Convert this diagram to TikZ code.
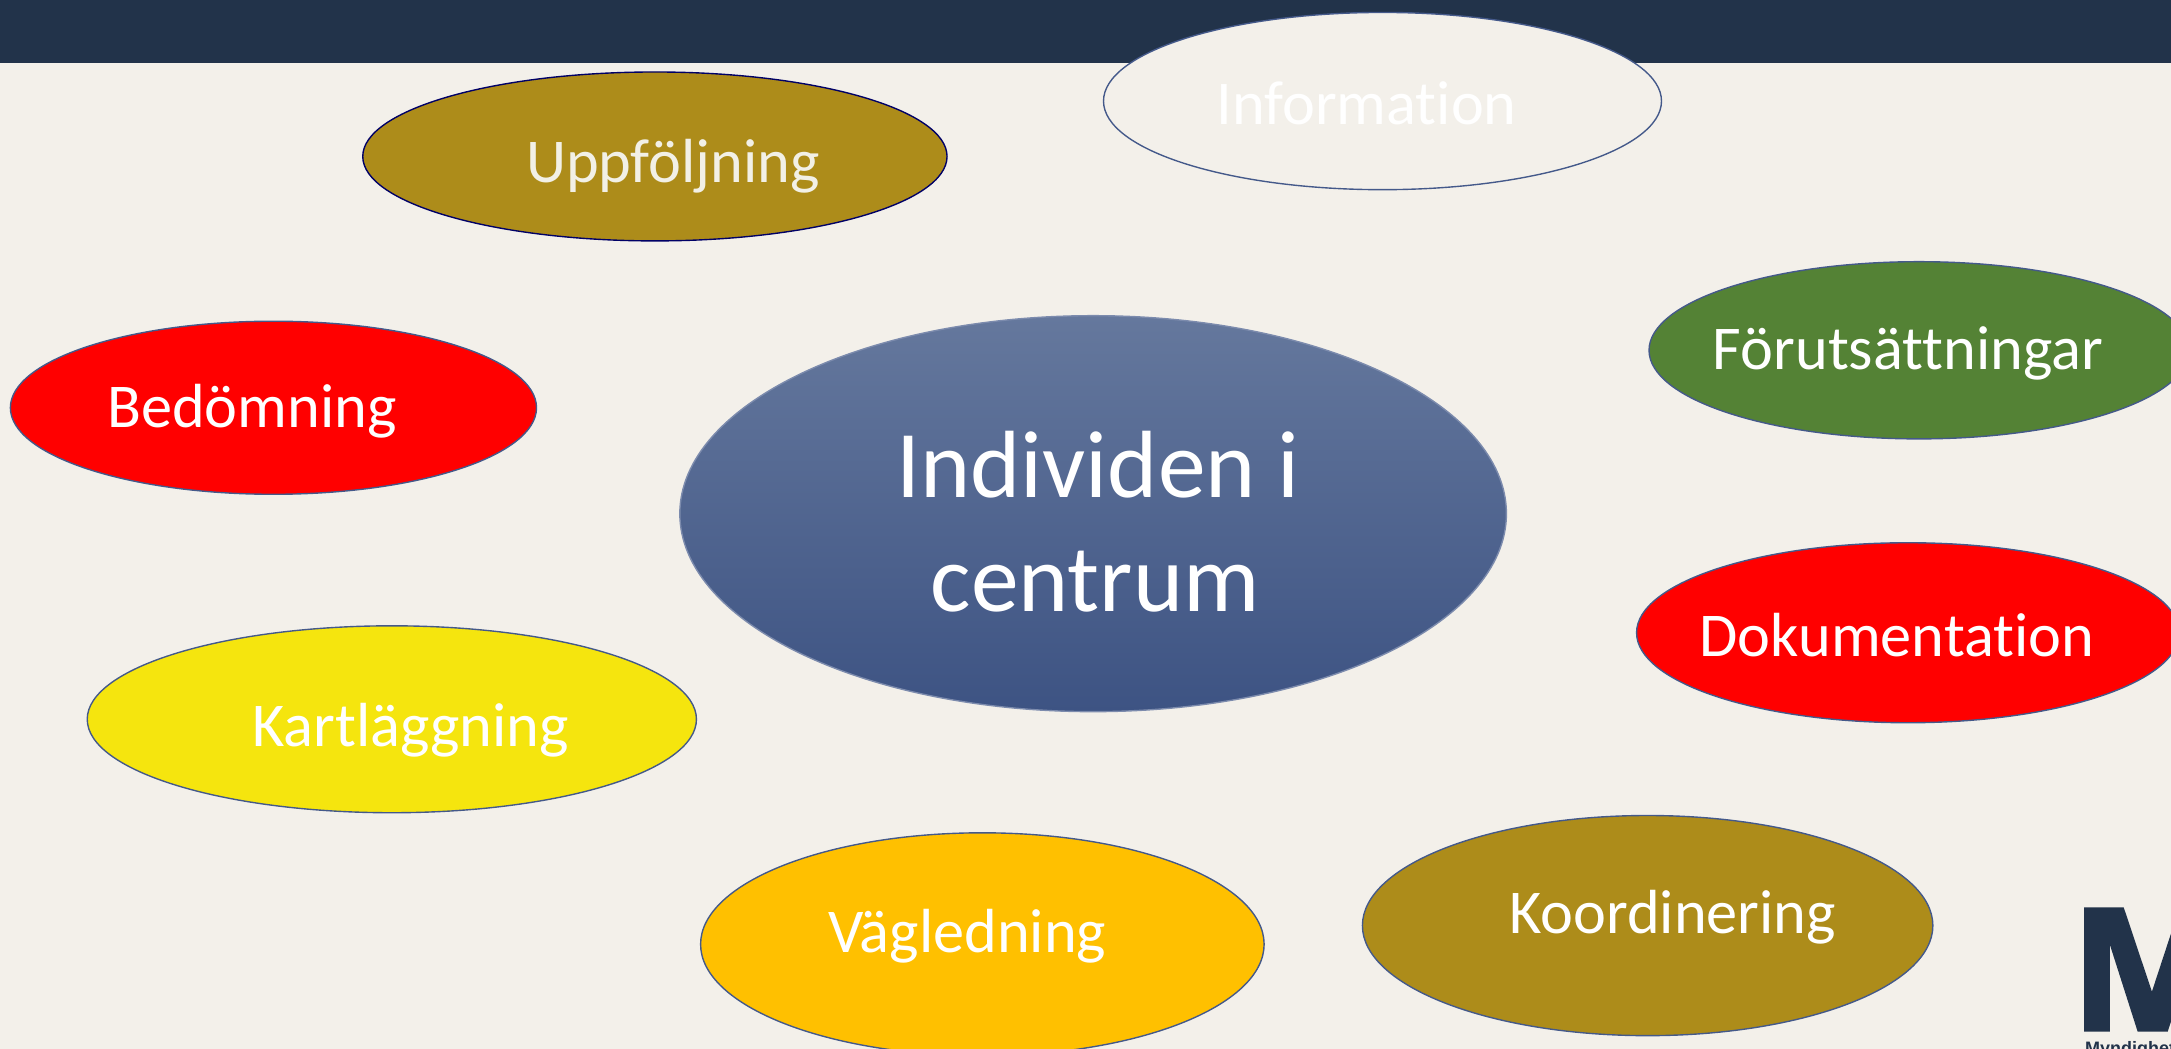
\documentclass[tikz,border=0pt]{standalone}
\usepackage{fontspec}
\setmainfont{Carlito}[RawFeature={-liga;-clig;-dlig}]
\newfontfamily\logofont{Liberation Sans}
\usetikzlibrary{shapes.geometric}
\definecolor{bgc}{HTML}{F3F0EA}
\definecolor{barc}{HTML}{22334A}
\definecolor{olive}{HTML}{AD8C1A}
\definecolor{grn}{HTML}{548235}
\definecolor{redc}{HTML}{FF0000}
\definecolor{yel}{HTML}{F5E50E}
\definecolor{amber}{HTML}{FFC000}
\definecolor{topblue}{HTML}{65789D}
\definecolor{botblue}{HTML}{3D5383}
\definecolor{edgec}{HTML}{44598A}
\definecolor{cream}{HTML}{F2F0E6}
\tikzset{
  ell/.style={ellipse, draw=edgec, line width=0.5pt, inner sep=0pt, outer sep=0pt},
  lbl/.style={anchor=base, text=white, inner sep=0pt, font=\fontsize{22.5}{27}\selectfont},
  biglbl/.style={anchor=base, text=white, inner sep=0pt, align=center, font=\fontsize{34.5}{41.5}\selectfont}
}
\begin{document}
\begin{tikzpicture}[x=0.5pt,y=-0.5pt]
\useasboundingbox (0,0) rectangle (1568,757.6);
\clip (0,0) rectangle (1568,757.6);
\fill[bgc] (0,0) rectangle (1568,757.6);
\fill[barc] (0,0) rectangle (1568,45.5);
% ellipses
\node[ell, fill=bgc, minimum width=201.5pt, minimum height=64pt] (info) at (998.5,73) {};
\node[ell, draw=blue!40!black, fill=olive, minimum width=211pt, minimum height=61pt] (upp) at (473,113) {};
\node[ell, fill=grn, minimum width=195pt, minimum height=64pt] (forut) at (1386,253) {};
\node[ell, fill=redc, minimum width=190pt, minimum height=62.5pt] (bedom) at (197.5,294.5) {};
\node[ell, draw=edgec!70, top color=topblue, bottom color=botblue, minimum width=298.5pt, minimum height=143pt] (ind) at (789.5,371) {};
\node[ell, fill=redc, minimum width=196pt, minimum height=65pt] (dok) at (1378,457) {};
\node[ell, fill=yel, minimum width=220pt, minimum height=67.5pt] (kart) at (283,519.5) {};
\node[ell, fill=amber, minimum width=203.5pt, minimum height=80.5pt] (vag) at (709.5,682) {};
\node[ell, fill=olive, minimum width=206pt, minimum height=79.5pt] (koord) at (1190,668.5) {};
% labels
\node[lbl] (infot) at (987,89.6) {Informat\kern0pt ion};
\node[lbl, text=cream] (uppt) at (486,132) {Uppföljning};
\node[lbl] (forutt) at (1378,267) {Förutsättningar};
\node[lbl] (bedomt) at (182,309) {Bedömning};
\node[biglbl] (indt1) at (793,359) {Individen i};
\node[biglbl] (indt2) at (791,442) {centrum};
\node[lbl] (dokt) at (1370,474.5) {Dokumentat\kern0pt ion};
\node[lbl] (kartt) at (296.4,539.3) {Kartläggning};
\node[lbl] (vagt) at (698.5,688) {Vägledning};
\node[lbl] (koordt) at (1208,674) {Koordinering};
% logo
\fill[barc] (1505.3,655.3) -- (1533.8,655.3) -- (1554.2,716.2) -- (1574.2,655.3)
  -- (1603,655.3) -- (1603,745.1) -- (1585,745.1) -- (1585,686) -- (1565.6,745.1)
  -- (1543.9,745.1) -- (1523.9,682.5) -- (1523.9,745.1) -- (1505.3,745.1) -- cycle;
\node[anchor=base west, inner sep=0pt, text=barc, font=\logofont\bfseries\fontsize{6.5}{7.8}\selectfont] (logot) at (1505.5,761.6) {Myndigheten};
\end{tikzpicture}
\end{document}
